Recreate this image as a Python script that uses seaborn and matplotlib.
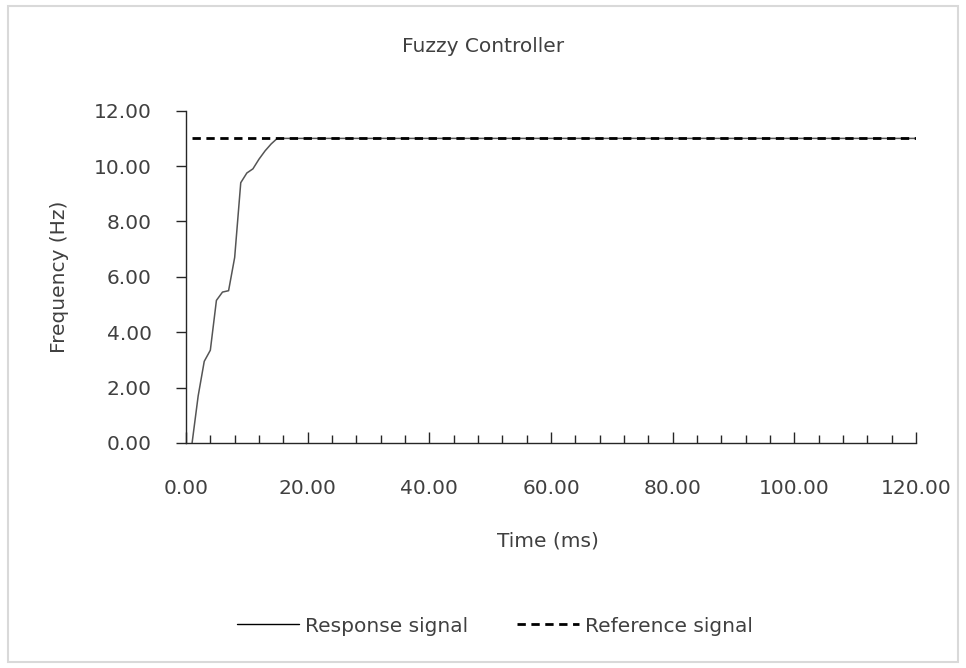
import numpy as np
import pandas as pd
import matplotlib
matplotlib.use("Agg")
import matplotlib.pyplot as plt
import seaborn as sns
from matplotlib.ticker import MultipleLocator, FormatStrFormatter
from matplotlib.patches import Rectangle
from matplotlib.lines import Line2D

# ---- data ----
time_ms = [1, 2, 3, 4, 5, 6, 7, 8, 9, 10, 11, 12, 13, 14, 15, 120]
response_hz = [0.0, 1.7, 2.95, 3.35, 5.15, 5.45, 5.5, 6.7, 9.4, 9.75, 9.9,
               10.25, 10.55, 10.8, 11.0, 11.0]
ref_time_ms = [1, 120]
reference_hz = [11.0, 11.0]

title = "Fuzzy Controller"
x_label = "Time (ms)"
y_label = "Frequency (Hz)"
series_names = ["Response signal", "Reference signal"]

sns.set_theme(style="white")
plt.rcParams['font.family'] = ['DejaVu Sans']
text_col = "#404040"
fs = 14.5

fig = plt.figure(figsize=(9.66, 6.68), dpi=100)
ax = fig.add_axes([186 / 966, 1 - 443 / 668, 730 / 966, 332.3 / 668])

sns.lineplot(x=time_ms, y=response_hz, ax=ax, color="#555555", linewidth=1.1)
sns.lineplot(x=ref_time_ms, y=reference_hz, ax=ax, color="black",
             linewidth=2.0, linestyle=(0, (3, 2)))

ax.set_xlim(0, 120)
ax.set_ylim(0, 12)
ax.xaxis.set_major_locator(MultipleLocator(20))
ax.xaxis.set_minor_locator(MultipleLocator(4))
ax.yaxis.set_major_locator(MultipleLocator(2))
ax.xaxis.set_major_formatter(FormatStrFormatter("%.2f"))
ax.yaxis.set_major_formatter(FormatStrFormatter("%.2f"))

for s in ["top", "right"]:
    ax.spines[s].set_visible(False)
for s in ["left", "bottom"]:
    ax.spines[s].set_color("#262626")
    ax.spines[s].set_linewidth(1.0)

ax.tick_params(axis="x", which="major", direction="in", length=8, width=1,
               color="#262626", pad=26, labelsize=fs, labelcolor=text_col)
ax.tick_params(axis="x", which="minor", direction="in", length=6, width=1,
               color="#262626")
ax.tick_params(axis="y", which="major", direction="out", length=7.5, width=1,
               color="#262626", pad=17, labelsize=fs, labelcolor=text_col)
ax.tick_params(bottom=True, left=True, which="both")

ax.set_xlabel("")
ax.set_ylabel(y_label, fontsize=fs, color=text_col, labelpad=18)

fig.text(483 / 966, 1 - 47 / 668, title, ha="center", va="center",
         fontsize=fs, color=text_col)
fig.text(548 / 966, 1 - 541 / 668, x_label, ha="center", va="center",
         fontsize=fs, color=text_col)

handles = [Line2D([], [], color="black", linewidth=1.0),
           Line2D([], [], color="black", linewidth=2.0, linestyle=(0, (3, 2)))]
leg = fig.legend(handles, series_names, loc="center",
                 bbox_to_anchor=(495 / 966, 1 - 626 / 668), ncol=2,
                 frameon=False, fontsize=fs, handlelength=3.1,
                 handletextpad=0.3, columnspacing=2.4)
for t in leg.get_texts():
    t.set_color(text_col)

fig.patches.append(Rectangle((8 / 966, 6 / 668), 950 / 966, 656 / 668,
                             transform=fig.transFigure, fill=False,
                             edgecolor="#d9d9d9", linewidth=1.5))

fig.savefig("out.png", dpi=100)
